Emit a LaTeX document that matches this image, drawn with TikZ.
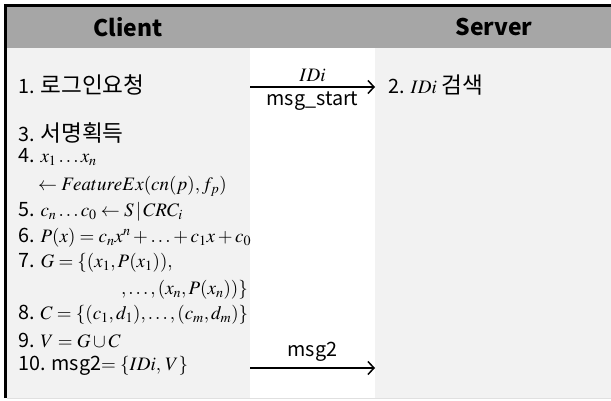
\documentclass[tikz,border=0pt]{standalone}
\usepackage{mathptmx}
\usepackage{fontspec}
\setmainfont{Noto Sans CJK KR}[Scale=1.04]
\newfontfamily\kr{Noto Sans CJK KR}[Scale=1.19]

\usetikzlibrary{arrows.meta}

\begin{document}
\begin{tikzpicture}[x=1pt, y=-1pt, font=\fontsize{19}{22}\selectfont]
  \useasboundingbox (0,0) rectangle (611,401);
  % ---- panels: client / channel / server ----
  \fill[white!95!black] (6,48) rectangle (611,398);
  \fill[white] (250,48) rectangle (375,398);
  \fill[white!65!black] (6,7) rectangle (611,48);
  \draw[line width=3pt] (5.5,398) -- (5.5,5.5) -- (611,5.5);
  \draw[black!12, line width=0.8pt] (7,398.5) -- (611,398.5);
  \tikzset{head/.style={font=\fontsize{22}{26}\selectfont\bfseries},
           stepline/.style={anchor=west, inner sep=0pt},
           msg/.style={line width=1.5pt, -{Straight Barb[length=6pt, width=13pt]}}}
  \node[head] (client) at (128,27) {Client};
  \node[head] (server) at (494,27) {Server};
  % ---- client steps ----
  \foreach \n/\yy/\t in {
    1/85/{1. {\kr 로그인요청}},
    3/133/{3. {\kr 서명획득}},
    4/157/{4. $x_1\ldots x_n$},
    5/212/{5. $c_n\ldots c_0 \leftarrow S\,|\,CRC_i$},
    6/238/{6. $P(x)=c_nx^n+\ldots+c_1x+c_0$},
    7/263/{7. $G=\{(x_1,P(x_1)),$},
    8/315/{8. $C=\{(c_1,d_1),\ldots,(c_m,d_m)\}$},
    9/340/{9. $V=G\cup C$},
    10/366/{10. msg2$=\{IDi,\,V\}$}} {
    \node[stepline] (st\n) at (18,\yy) {\t};
  }
  \node[stepline] (st4b) at (38,186) {$\leftarrow FeatureEx(cn(p),f_p)$};
  \node[stepline, anchor=east] (st7b) at (248,290) {$,\ldots,(x_n,P(x_n))\}$};
  % ---- server step ----
  \node[stepline] (sv2) at (388,85) {2. $IDi$ {\kr 검색}};
  % ---- messages ----
  \coordinate (req from) at (250,87);
  \coordinate (req to) at (375,87);
  \draw[msg] (req from) -- node[above=1pt] (idi) {$IDi$} node[below=1pt] (mstart) {msg\_start} (req to);
  \coordinate (ack from) at (250,368);
  \coordinate (ack to) at (375,368);
  \draw[msg] (ack from) -- node[above=2pt] (m2) {msg2} (ack to);
\end{tikzpicture}
\end{document}
